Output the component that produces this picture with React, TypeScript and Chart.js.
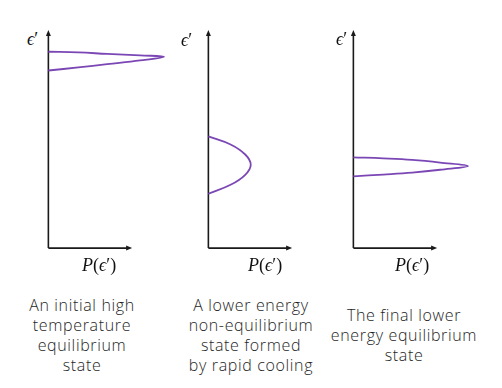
import React, { useEffect, useRef } from "react";
import { Chart, registerables } from "chart.js";

Chart.register(...registerables);

// Distribution curves: P(ε') (x) versus ε' (y), normalised so axis tips are at 1
const panel1P = [0, 0.357, 0.702, 1.095, 1.381, 1.095, 0.702, 0.357, 0];
const panel1E = [0.9, 0.897, 0.89, 0.883, 0.877, 0.86, 0.843, 0.828, 0.814];

const panel2P = [0, 0.265, 0.44, 0.506, 0.44, 0.265, 0];
const panel2E = [0.512, 0.475, 0.429, 0.382, 0.336, 0.29, 0.249];

const panel3P = [0, 0.357, 0.702, 1.036, 1.369, 1.036, 0.702, 0.357, 0];
const panel3E = [0.416, 0.411, 0.404, 0.392, 0.376, 0.359, 0.346, 0.337, 0.329];

const captions = [
  ["An initial high", "temperature", "equilibrium", "state"],
  ["A lower energy", "non-equilibrium", "state formed", "by rapid cooling"],
  ["The final lower", "energy equilibrium", "state"],
];

const PURPLE = "#7b47b5";
const AXIS = "#1a1a1a";

const axesPlugin = {
  id: "arrowAxes",
  beforeDatasetsDraw(chart: any) {
    const ctx = chart.ctx;
    const xs = chart.scales.x;
    const ys = chart.scales.y;
    const x0 = xs.getPixelForValue(0);
    const x1 = xs.getPixelForValue(1);
    const y0 = ys.getPixelForValue(0);
    const y1 = ys.getPixelForValue(1);
    ctx.save();
    ctx.strokeStyle = AXIS;
    ctx.fillStyle = AXIS;
    ctx.lineWidth = 1.6;
    ctx.beginPath();
    ctx.moveTo(x0, y0);
    ctx.lineTo(x0, y1 + 4);
    ctx.moveTo(x0, y0);
    ctx.lineTo(x1 - 4, y0);
    ctx.stroke();
    // arrowheads
    ctx.beginPath();
    ctx.moveTo(x0, y1);
    ctx.lineTo(x0 - 2.5, y1 + 6);
    ctx.lineTo(x0 + 2.5, y1 + 6);
    ctx.closePath();
    ctx.fill();
    ctx.beginPath();
    ctx.moveTo(x1, y0);
    ctx.lineTo(x1 - 6, y0 - 2.5);
    ctx.lineTo(x1 - 6, y0 + 2.5);
    ctx.closePath();
    ctx.fill();
    ctx.restore();
  },
};

function Panel({ P, E, left }: { P: number[]; E: number[]; left: number }) {
  const ref = useRef<HTMLCanvasElement>(null);
  useEffect(() => {
    if (!ref.current) return;
    const chart = new Chart(ref.current, {
      type: "scatter",
      data: {
        datasets: [
          {
            data: P.map((p, i) => ({ x: p, y: E[i] })),
            showLine: true,
            borderColor: PURPLE,
            borderWidth: 1.8,
            pointRadius: 0,
            tension: 0.4,
            fill: false,
          },
        ],
      },
      options: {
        responsive: false,
        animation: false,
        layout: { padding: 0 },
        plugins: { legend: { display: false }, tooltip: { enabled: false } },
        scales: {
          x: { type: "linear", min: -0.1, max: 1.5, display: false },
          y: { type: "linear", min: -0.05, max: 1.05, display: false },
        },
      },
      plugins: [axesPlugin],
    });
    return () => chart.destroy();
  }, []);
  return (
    <canvas
      ref={ref}
      width={134}
      height={240}
      style={{ position: "absolute", left, top: 19, width: 134, height: 240 }}
    />
  );
}

const mathFont = "'Liberation Serif', 'DejaVu Serif', serif";

function EpsLabel({ x, y }: { x: number; y: number }) {
  return (
    <div
      style={{
        position: "absolute",
        left: x,
        top: y,
        fontFamily: mathFont,
        fontSize: 18,
        lineHeight: "18px",
        color: "#111",
        whiteSpace: "nowrap",
      }}
    >
      <i>ϵ</i>′
    </div>
  );
}

function PLabel({ x, y }: { x: number; y: number }) {
  return (
    <div
      style={{
        position: "absolute",
        left: x,
        top: y,
        fontFamily: mathFont,
        fontSize: 18,
        lineHeight: "18px",
        color: "#111",
        whiteSpace: "nowrap",
      }}
    >
      <i>P</i>(<i>ϵ</i>′)
    </div>
  );
}

function Caption({ lines, cx, cy }: { lines: string[]; cx: number; cy: number }) {
  return (
    <div
      style={{
        position: "absolute",
        left: cx - 90,
        width: 180,
        top: cy - (lines.length * 20) / 2,
        textAlign: "center",
        fontFamily: "'Open Sans', 'Liberation Sans', sans-serif",
        fontWeight: 300,
        fontSize: 16,
        letterSpacing: "0.65px",
        lineHeight: "20px",
        color: "#1e1e1e",
      }}
    >
      {lines.map((l, i) => (
        <div key={i}>{l}</div>
      ))}
    </div>
  );
}

export default function App() {
  useEffect(() => {
    document.body.style.margin = "0";
  }, []);
  return (
    <div style={{ position: "relative", width: 502, height: 388, background: "#fff", overflow: "hidden" }}>
      <Panel P={panel1P} E={panel1E} left={40} />
      <Panel P={panel2P} E={panel2E} left={200} />
      <Panel P={panel3P} E={panel3E} left={345} />
      <EpsLabel x={27} y={30} />
      <EpsLabel x={181} y={31} />
      <EpsLabel x={336} y={30} />
      <PLabel x={82} y={256} />
      <PLabel x={248} y={256} />
      <PLabel x={395} y={256} />
      <Caption lines={captions[0]} cx={82} cy={335} />
      <Caption lines={captions[1]} cx={251} cy={335} />
      <Caption lines={captions[2]} cx={404} cy={335} />
    </div>
  );
}
